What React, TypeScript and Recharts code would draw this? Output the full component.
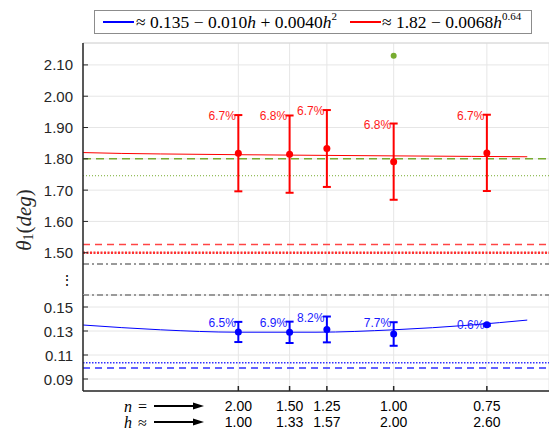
import React from 'react';
import {
  ComposedChart,
  Line,
  Scatter,
  ErrorBar,
  XAxis,
  YAxis,
  CartesianGrid,
  ReferenceLine,
  ReferenceArea,
} from 'recharts';

// x positions (h) and the matching n values shown under the axis
const hValues = [1.0, 1.33, 1.57, 2.0, 2.6];
const nLabels = ['2.00', '1.50', '1.25', '1.00', '0.75'];
const hLabels = ['1.00', '1.33', '1.57', '2.00', '2.60'];

// measured means and relative errors (%)
const redMeans = [1.818, 1.815, 1.833, 1.791, 1.819];
const redPct = [6.7, 6.8, 6.7, 6.8, 6.7];
const blueMeans = [0.1292, 0.1289, 0.1313, 0.1275, 0.1352];
const bluePct = [6.5, 6.9, 8.2, 7.7, 0.6];

// single outlier
const greenH = [2.0];
const greenVals = [2.129];

// fitted curves, sampled along h
const fitH = [0, 0.25, 0.5, 1, 1.5, 2, 2.5, 2.86];
const redFit = [1.82, 1.8172, 1.8156, 1.8132, 1.8112, 1.8094, 1.8078, 1.8066];
const blueFit = [0.135, 0.1328, 0.131, 0.129, 0.129, 0.131, 0.135, 0.1391];

// horizontal reference levels
const greenDashed = 1.8;
const greenDotted = 1.746;
const redDashed = 1.526;
const redDotted = 1.5;
const breakUpper = 1.464;
const breakLower = 0.16;
const blueDotted = 0.1036;
const blueDashed = 0.0992;

// axis ranges and ticks
const upperDomain = [1.365, 2.17];
const upperTicks = [1.5, 1.6, 1.7, 1.8, 1.9, 2.0, 2.1];
const lowerDomain = [0.08, 0.16];
const lowerTicks = [0.09, 0.11, 0.13, 0.15];
const xDomain = [0, 3];

const W = 549;
const H = 433;
const SANS = '"Liberation Sans", Arial, sans-serif';
const SERIF = '"Liberation Serif", "Times New Roman", serif';
const AXIS = '#262626';
const GRID = '#e6e6e6';
const RED = '#ff0000';
const BLUE = '#0000ff';
const GREEN = '#77ac30';
const GRAY = '#9a9a9a';

const withErr = (means: number[], pct: number[]) =>
  hValues.map((h, i) => ({ h, v: means[i], err: (means[i] * pct[i]) / 100 }));
const labelTops = (means: number[], pct: number[]) =>
  hValues.map((h, i) => ({ h, v: means[i] * (1 + pct[i] / 100), pct: pct[i] }));

const redPoints = withErr(redMeans, redPct);
const bluePoints = withErr(blueMeans, bluePct);
const redLabels = labelTops(redMeans, redPct);
const blueLabels = labelTops(blueMeans, bluePct);
const greenPoints = greenH.map((h, i) => ({ h, v: greenVals[i] }));
const redFitData = fitH.map((h, i) => ({ h, v: redFit[i] }));
const blueFitData = fitH.map((h, i) => ({ h, v: blueFit[i] }));

// y tick: label on the left, short tick pointing into the plot
const YTick = (props: any) => {
  const { x, y, payload } = props;
  return (
    <g>
      <line x1={x + 10} x2={x + 15} y1={y} y2={y} stroke={AXIS} />
      <text x={x} y={y} textAnchor="end" dominantBaseline="central" fontFamily={SANS} fontSize={15} fill={AXIS}>
        {Number(payload.value).toFixed(2)}
      </text>
    </g>
  );
};

// x tick: inward tick plus two rows (n and h)
const XTick = (props: any) => {
  const { x, y, payload } = props;
  const i = hValues.indexOf(payload.value);
  return (
    <g>
      <line x1={x} x2={x} y1={y} y2={y - 5} stroke={AXIS} strokeWidth={1.5} />
      <text x={x} y={y + 15} textAnchor="middle" dominantBaseline="central" fontFamily={SANS} fontSize={14} fill="#000">
        {nLabels[i]}
      </text>
      <text x={x} y={y + 31} textAnchor="middle" dominantBaseline="central" fontFamily={SANS} fontSize={14} fill="#000">
        {hLabels[i]}
      </text>
    </g>
  );
};

const dot = (color: string, r: number) => (p: any) => <circle cx={p.cx} cy={p.cy} r={r} fill={color} />;

const pctLabel = (color: string) => (p: any) => (
  <text x={p.cx - 2.5} y={p.cy + 1} textAnchor="end" dominantBaseline="central" fontFamily={SANS} fontSize={12} fill={color}>
    {p.payload.pct}%
  </text>
);

const Arrow = ({ x1, x2, y }: { x1: number; x2: number; y: number }) => (
  <g>
    <line x1={x1} x2={x2 - 8} y1={y} y2={y} stroke="#000" strokeWidth={2} />
    <polygon points={`${x2},${y} ${x2 - 11},${y - 3.5} ${x2 - 11},${y + 3.5}`} fill="#000" />
  </g>
);

const App = () => {
  return (
    <div style={{ position: 'fixed', left: 0, top: 0, width: W, height: H, background: '#fff' }}>
      {/* upper panel: theta around 1.5 - 2.1 */}
      <div style={{ position: 'absolute', left: 0, top: 0 }}>
        <ComposedChart width={W} height={295} margin={{ top: 43, right: 0, bottom: 0, left: 0 }}>
          <CartesianGrid stroke={GRID} />
          <XAxis type="number" dataKey="h" domain={xDomain} ticks={hValues} interval={0} hide allowDataOverflow />
          <YAxis
            type="number"
            dataKey="v"
            width={83}
            domain={upperDomain}
            ticks={upperTicks}
            interval={0}
            allowDataOverflow
            tickSize={0}
            tickMargin={10}
            tickLine={false}
            axisLine={{ stroke: AXIS, strokeWidth: 1.5 }}
            tick={<YTick />}
          />
          <ReferenceLine y={upperDomain[1]} stroke="#d6d6d6" />
          <ReferenceArea y1={upperDomain[0]} y2={breakUpper} fill="#fff" fillOpacity={1} stroke="none" />
          <ReferenceLine y={greenDashed} stroke={GREEN} strokeWidth={1.5} strokeDasharray="8 5" />
          <ReferenceLine y={greenDotted} stroke={GREEN} strokeWidth={1} strokeDasharray="1 2" />
          <ReferenceLine y={redDashed} stroke="#ff4444" strokeWidth={1.5} strokeDasharray="7 5" />
          <ReferenceLine y={redDotted} stroke="#ff3030" strokeWidth={2.5} strokeDasharray="2 1.5" />
          <ReferenceLine y={breakUpper} stroke={GRAY} strokeWidth={2} strokeDasharray="6 3 2 3" />
          <Line data={redFitData} dataKey="v" type="monotone" stroke={RED} strokeWidth={1} dot={false} isAnimationActive={false} />
          <Scatter data={redPoints} dataKey="v" shape={dot(RED, 3.5)} isAnimationActive={false}>
            <ErrorBar dataKey="err" direction="y" width={4} stroke={RED} strokeWidth={2} isAnimationActive={false} />
          </Scatter>
          <Scatter data={greenPoints} dataKey="v" shape={dot(GREEN, 3)} isAnimationActive={false} />
          <Scatter data={redLabels} dataKey="v" shape={pctLabel('#ff1a1a')} isAnimationActive={false} />
        </ComposedChart>
      </div>

      {/* lower panel: theta around 0.09 - 0.15 */}
      <div style={{ position: 'absolute', left: 0, top: 0 }}>
        <ComposedChart width={W} height={H} margin={{ top: 295, right: 0, bottom: 0, left: 0 }}>
          <CartesianGrid stroke={GRID} />
          <XAxis
            type="number"
            dataKey="h"
            domain={xDomain}
            ticks={hValues}
            interval={0}
            allowDataOverflow
            height={42}
            tickSize={0}
            tickMargin={0}
            tickLine={false}
            axisLine={{ stroke: AXIS, strokeWidth: 1.5 }}
            tick={<XTick />}
          />
          <YAxis
            type="number"
            dataKey="v"
            width={83}
            domain={lowerDomain}
            ticks={lowerTicks}
            interval={0}
            allowDataOverflow
            tickSize={0}
            tickMargin={10}
            tickLine={false}
            axisLine={{ stroke: AXIS, strokeWidth: 1.5 }}
            tick={<YTick />}
          />
          <ReferenceLine y={breakLower} stroke={GRAY} strokeWidth={2} strokeDasharray="6 3 2 3" />
          <ReferenceLine y={blueDotted} stroke="#3030ff" strokeWidth={1.5} strokeDasharray="1.5 1.5" />
          <ReferenceLine y={blueDashed} stroke="#3030ff" strokeWidth={1.5} strokeDasharray="7 5" />
          <Line data={blueFitData} dataKey="v" type="monotone" stroke={BLUE} strokeWidth={1} dot={false} isAnimationActive={false} />
          <Scatter data={bluePoints} dataKey="v" shape={dot(BLUE, 3.5)} isAnimationActive={false}>
            <ErrorBar dataKey="err" direction="y" width={4} stroke={BLUE} strokeWidth={2} isAnimationActive={false} />
          </Scatter>
          <Scatter data={blueLabels} dataKey="v" shape={pctLabel('#1a1aff')} isAnimationActive={false} />
        </ComposedChart>
      </div>

      {/* legend, axis title, break marker and n/h row captions */}
      <svg width={W} height={H} style={{ position: 'absolute', left: 0, top: 0, pointerEvents: 'none' }}>
        <rect x={94.5} y={10.5} width={437} height={23} fill="#fff" stroke="#8c8c8c" />
        <line x1={103} x2={134} y1={22} y2={22} stroke={BLUE} strokeWidth={2} />
        <text x={136} y={22} dominantBaseline="central" fontFamily={SERIF} fontSize={17.5} fill="#000">
          ≈ 0.135 − 0.010<tspan fontStyle="italic">h</tspan> + 0.0040<tspan fontStyle="italic">h</tspan>
          <tspan fontSize={11} dy={-6}>2</tspan>
        </text>
        <line x1={350} x2={381} y1={22} y2={22} stroke={RED} strokeWidth={2} />
        <text x={382} y={22} dominantBaseline="central" fontFamily={SERIF} fontSize={17.5} fill="#000">
          ≈ 1.82 − 0.0068<tspan fontStyle="italic">h</tspan>
          <tspan fontSize={11} dy={-6}>0.64</tspan>
        </text>

        <text
          transform="translate(24,220) rotate(-90)"
          textAnchor="middle"
          dominantBaseline="central"
          fontFamily={SERIF}
          fontSize={21}
          fill={AXIS}
        >
          <tspan fontStyle="italic">θ</tspan>
          <tspan fontSize={14} dy={4}>1</tspan>
          <tspan dy={-4}>(</tspan>
          <tspan fontStyle="italic">deg</tspan>)
        </text>

        <text x={67} y={280} textAnchor="middle" dominantBaseline="central" fontFamily={SANS} fontSize={14} fill="#000">
          ⋮
        </text>

        <text x={124} y={406} dominantBaseline="central" fontFamily={SERIF} fontSize={16} fill="#000">
          <tspan fontStyle="italic">n</tspan>
          <tspan x={138}>=</tspan>
        </text>
        <Arrow x1={154} x2={204} y={406} />
        <text x={124} y={422} dominantBaseline="central" fontFamily={SERIF} fontSize={16} fill="#000">
          <tspan fontStyle="italic">h</tspan>
          <tspan x={138}>≈</tspan>
        </text>
        <Arrow x1={154} x2={204} y={422} />
      </svg>
    </div>
  );
};

export default App;
